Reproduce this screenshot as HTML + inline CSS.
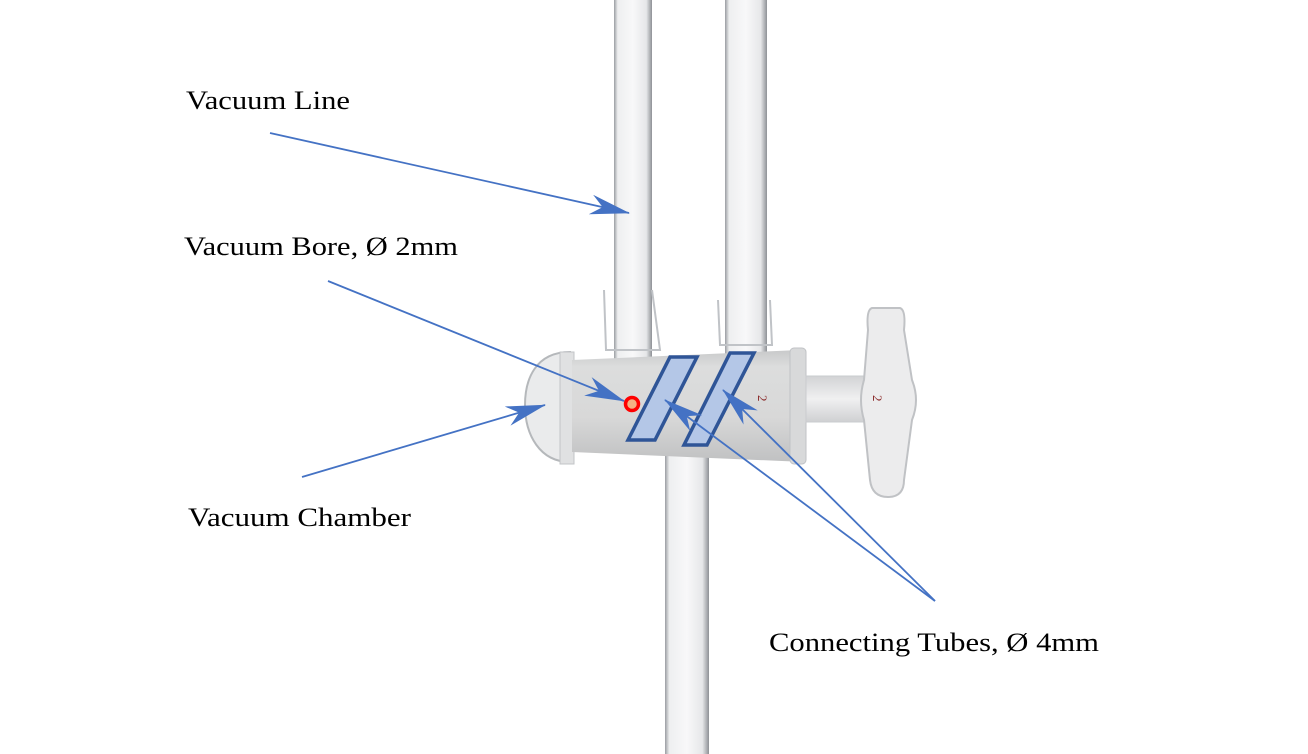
<!DOCTYPE html>
<html><head><meta charset="utf-8"><style>
html,body{margin:0;padding:0;background:#fff;}
svg{display:block;}
text{font-family:"Liberation Serif",serif;font-size:26px;fill:#000;}
</style></head><body>
<svg width="1308" height="754" viewBox="0 0 1308 754" xmlns="http://www.w3.org/2000/svg">
<defs>
<linearGradient id="tg" x1="0" x2="1" y1="0" y2="0">
<stop offset="0" stop-color="#9a9da2"/><stop offset="0.1" stop-color="#eeeff0"/>
<stop offset="0.5" stop-color="#f8f8f9"/><stop offset="0.85" stop-color="#e6e7e9"/>
<stop offset="1" stop-color="#8e9196"/></linearGradient>
<linearGradient id="bg" x1="0" x2="0" y1="0" y2="1">
<stop offset="0" stop-color="#c8c9ca"/><stop offset="0.15" stop-color="#dcdddd"/>
<stop offset="0.6" stop-color="#d8d8d8"/><stop offset="1" stop-color="#c0c1c2"/></linearGradient>
<linearGradient id="hg" x1="0" x2="0" y1="0" y2="1">
<stop offset="0" stop-color="#d2d3d5"/><stop offset="0.5" stop-color="#f0f0f1"/><stop offset="1" stop-color="#cfd0d2"/></linearGradient>
<marker id="ah" viewBox="0 0 40 20" refX="39" refY="10" markerWidth="40" markerHeight="20" markerUnits="userSpaceOnUse" orient="auto">
<path d="M0,0 L40,10 L0,20 L12,10 Z" fill="#4472c4"/></marker>
</defs>
<rect x="614" y="0" width="38" height="365" fill="url(#tg)"/>
<rect x="725" y="0" width="42" height="362" fill="url(#tg)"/>
<path d="M604,290 L606,350 L660,350 L652,290" fill="none" stroke="#c0c3c7" stroke-width="2"/>
<path d="M718,300 L720,345 L772,345 L770,300" fill="none" stroke="#c0c3c7" stroke-width="2"/>
<rect x="665" y="440" width="44" height="314" fill="url(#tg)"/>
<path d="M570,352 C535,352 525,380 525,405 C525,435 540,462 570,462 Z" fill="#eaebec" stroke="#b5b8bb" stroke-width="2"/>
<rect x="560" y="352" width="14" height="112" fill="#e0e1e2" stroke="#c2c4c7"/>
<path d="M572,360 L800,350 L805,462 L572,452 Z" fill="url(#bg)"/>
<rect x="790" y="348" width="16" height="116" rx="4" fill="#d8d9da" stroke="#c0c2c5"/>
<rect x="806" y="376" width="60" height="46" fill="url(#hg)" stroke="#cacccf"/>
<path d="M872,308 L900,308 Q906,310 904,330 L912,380 Q920,400 912,420 L904,480 Q904,497 888,497 Q872,497 870,480 L864,420 Q858,400 864,380 L868,330 Q866,310 872,308 Z" fill="#ececed" stroke="#c0c2c5" stroke-width="2"/>
<text x="757" y="404" style="font-size:13px;fill:#8b2a2a" transform="rotate(90 762 400)">2</text>
<text x="872" y="404" style="font-size:13px;fill:#8b2a2a" transform="rotate(90 877 400)">2</text>
<path d="M628,440 L655,440 L697,357 L670,357 Z" fill="#b4c7e7" stroke="#2f5597" stroke-width="3.5"/>
<path d="M684,445 L707,445 L754,353 L730,353 Z" fill="#b4c7e7" stroke="#2f5597" stroke-width="3.5"/>
<circle cx="632" cy="404" r="6.5" fill="#f4b183" stroke="#ff0000" stroke-width="3.5"/>
<g stroke="#4472c4" stroke-width="1.8" fill="none" marker-end="url(#ah)">
<line x1="270" y1="133" x2="629" y2="213"/>
<line x1="328" y1="281" x2="624" y2="401"/>
<line x1="302" y1="477" x2="545" y2="405"/>
<line x1="935" y1="601" x2="665" y2="400"/>
<line x1="935" y1="601" x2="723" y2="390"/>
</g>
<text x="186" y="109" textLength="164" lengthAdjust="spacingAndGlyphs">Vacuum Line</text>
<text x="184" y="255" textLength="274" lengthAdjust="spacingAndGlyphs">Vacuum Bore, Ø 2mm</text>
<text x="188" y="526" textLength="223" lengthAdjust="spacingAndGlyphs">Vacuum Chamber</text>
<text x="769" y="651" textLength="330" lengthAdjust="spacingAndGlyphs">Connecting Tubes, Ø 4mm</text>
</svg>
</body></html>
